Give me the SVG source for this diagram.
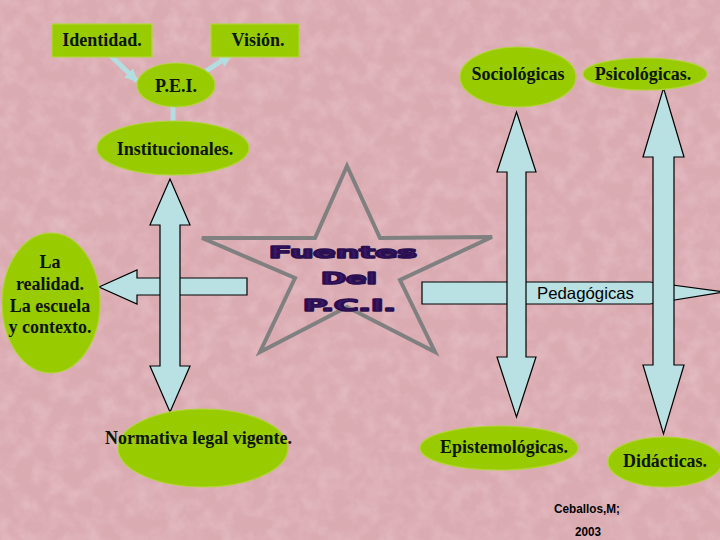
<svg xmlns="http://www.w3.org/2000/svg" width="720" height="540" viewBox="0 0 720 540">
<defs>
<style>
.bg{fill:#dbabb2}
.node{fill:#99cc00;stroke:#b2d43a;stroke-width:1.2}
.t{font-family:"Liberation Serif","Times New Roman",serif;font-weight:bold;font-size:18px;fill:#0b1600;text-anchor:middle}
.s{font-family:"Liberation Sans",Arial,sans-serif;fill:#000;text-anchor:middle}
.blk{fill:#b9e0e3;stroke:#000;stroke-width:1.2;stroke-linejoin:miter}
.thin{stroke:#b3dde0;stroke-width:5;fill:none}
.star{fill:none;stroke:#808080;stroke-width:4;stroke-linejoin:miter}
.st{font-family:"DejaVu Sans",Verdana,sans-serif;font-weight:bold;font-size:15px;fill:#3a1868;stroke:#2a0f50;stroke-width:1.6;stroke-linejoin:round;text-anchor:middle}
</style>
<marker id="ah" viewBox="0 0 10 10" refX="9" refY="5" markerWidth="2.6" markerHeight="2.6" orient="auto" markerUnits="strokeWidth">
<path d="M0,0 L10,5 L0,10 z" fill="#b3dde0"/>
</marker>
<filter id="tex" x="0" y="0" width="100%" height="100%">
<feTurbulence type="fractalNoise" baseFrequency="0.06" numOctaves="3" seed="7"/>
<feColorMatrix type="matrix" values="0 0 0 0 1  0 0 0 0 0.92  0 0 0 0 0.94  1.4 0 0 0 -0.55"/>
</filter>
</defs>
<rect class="bg" x="0" y="0" width="720" height="540"/>
<rect x="0" y="0" width="720" height="540" filter="url(#tex)" opacity="0.3"/>

<g id="connectors">
<line class="thin" x1="110" y1="55" x2="137" y2="81" marker-end="url(#ah)"/>
<line class="thin" x1="206" y1="71" x2="231" y2="55" marker-end="url(#ah)"/>
<line class="thin" x1="173" y1="106" x2="173" y2="122"/>
<polygon class="blk" points="99,287 137,270 137,278 247,278 247,295 137,295 137,304"/>
<polygon class="blk" points="422,282 650,282 724,292 650,304 422,304"/>
<polygon class="blk" points="170,179 190,225 180,225 180,366 190,366 170,412 150,366 160,366 160,225 150,225"/>
<polygon class="blk" points="516.5,112 536,172 526,172 526,357 536,357 516.5,417 497,357 507,357 507,172 497,172"/>
<polygon class="blk" points="663.5,88 684,157 674,157 674,365 684,365 663.5,434 643,365 653,365 653,157 643,157"/>
<text class="s" x="585.5" y="299" font-size="16.5" textLength="97" lengthAdjust="spacingAndGlyphs">Pedagógicas</text>
</g>

<g id="identidad">
<rect class="node" x="52" y="24" width="100" height="33" stroke="none"/>
<text class="t" x="102" y="46">Identidad.</text>
</g>
<g id="vision">
<rect class="node" x="211" y="24" width="88" height="33" stroke="none"/>
<text class="t" x="258" y="46">Visión.</text>
</g>
<g id="pei">
<ellipse class="node" cx="176" cy="85" rx="39" ry="22"/>
<text class="t" x="176" y="92">P.E.I.</text>
</g>
<g id="institucionales">
<ellipse class="node" cx="173" cy="148" rx="76" ry="27"/>
<text class="t" x="175" y="155">Institucionales.</text>
</g>
<g id="sociologicas">
<ellipse class="node" cx="518" cy="77" rx="58" ry="30"/>
<text class="t" x="518" y="80">Sociológicas</text>
</g>
<g id="psicologicas">
<ellipse class="node" cx="645" cy="74" rx="62" ry="16"/>
<text class="t" x="643" y="80">Psicológicas.</text>
</g>
<g id="realidad">
<ellipse class="node" cx="51" cy="303" rx="49" ry="70"/>
<text class="t" x="50" y="268">La</text>
<text class="t" x="50" y="290">realidad.</text>
<text class="t" x="50" y="312">La escuela</text>
<text class="t" x="50" y="333">y contexto.</text>
</g>
<g id="normativa">
<ellipse class="node" cx="203" cy="448" rx="85" ry="39"/>
<text class="t" x="198.5" y="444" textLength="187" lengthAdjust="spacingAndGlyphs">Normativa legal vigente.</text>
</g>
<g id="epistemologicas">
<ellipse class="node" cx="499" cy="448" rx="79" ry="22"/>
<text class="t" x="504" y="453" textLength="128" lengthAdjust="spacingAndGlyphs">Epistemológicas.</text>
</g>
<g id="didacticas">
<ellipse class="node" cx="665" cy="462" rx="57" ry="25"/>
<text class="t" x="665" y="467" textLength="84" lengthAdjust="spacingAndGlyphs">Didácticas.</text>
</g>
<g id="fuentes">
<polygon class="star" points="347,166 380,238 492,237 400,280 435,352 347,307 260,352 295,278 202,238 315,238"/>
<text class="st" x="343" y="258" textLength="148" lengthAdjust="spacingAndGlyphs">Fuentes</text>
<text class="st" x="349" y="284" textLength="56" lengthAdjust="spacingAndGlyphs">Del</text>
<text class="st" x="349.5" y="311" textLength="93" lengthAdjust="spacingAndGlyphs">P.C.I.</text>
</g>
<g id="autor">
<text class="s" x="587" y="513" font-size="13" font-weight="bold" textLength="66" lengthAdjust="spacingAndGlyphs">Ceballos,M;</text>
<text class="s" x="588" y="536" font-size="13" font-weight="bold" textLength="26" lengthAdjust="spacingAndGlyphs">2003</text>
</g>
</svg>
